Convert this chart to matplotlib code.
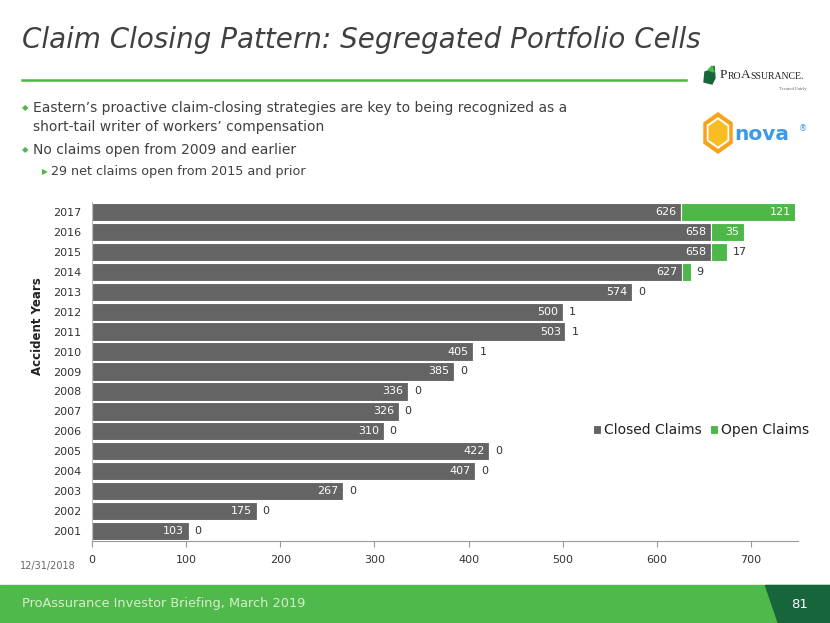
import matplotlib
matplotlib.use('Agg')
import matplotlib.pyplot as plt
from matplotlib.patches import Rectangle, Polygon
from matplotlib.text import Annotation
import numpy as np

# --- DATA ---
YEARS = ['2001', '2002', '2003', '2004', '2005', '2006', '2007', '2008', '2009',
         '2010', '2011', '2012', '2013', '2014', '2015', '2016', '2017']
CLOSED = [103, 175, 267, 407, 422, 310, 326, 336, 385, 405, 503, 500, 574, 627, 658, 658, 626]
OPEN = [0, 0, 0, 0, 0, 0, 0, 0, 0, 1, 1, 1, 0, 9, 17, 35, 121]
X_TICKS = [0, 100, 200, 300, 400, 500, 600, 700]

TITLE = 'Claim Closing Pattern: Segregated Portfolio Cells'
BULLETS = ["Eastern\u2019s proactive claim-closing strategies are key to being recognized as a",
           "short-tail writer of workers\u2019 compensation",
           "No claims open from 2009 and earlier",
           "29 net claims open from 2015 and prior"]
FOOTER = 'ProAssurance Investor Briefing, March 2019'
PAGE = '81'
DATE = '12/31/2018'

# --- STYLE ---
GRAY_BAR = '#646464'
GREEN = '#4db848'
DARK_GREEN = '#17653a'
TEXT = '#404040'

W, H = 830, 623
fig = plt.figure(figsize=(W / 100, H / 100), dpi=100)
fig.patch.set_facecolor('white')


def fx(px):
    return px / W


def fy(py):
    return 1 - py / H


def hexagon(cx, cy, rx, ry, **kw):
    # pointy-top hexagon given in pixel units
    ang = np.deg2rad(90 + 60 * np.arange(6))
    pts = [[fx(cx + rx * np.cos(a)), fy(cy - ry * np.sin(a))] for a in ang]
    return Polygon(pts, closed=True, transform=fig.transFigure, **kw)


# title + rule
fig.text(fx(22), fy(40), TITLE, fontsize=20, style='italic', color=TEXT,
         va='center', ha='left')
fig.add_artist(plt.Line2D([fx(22), fx(686)], [fy(80), fy(80)], color=GREEN, lw=1.8,
                          transform=fig.transFigure))

# bullets
bullet_kw = dict(fontsize=10, color=TEXT, va='center', ha='left')
fig.text(fx(22), fy(108), '\u25c6', fontsize=6, color=GREEN, va='center')
fig.text(fx(33), fy(108), BULLETS[0], **bullet_kw)
fig.text(fx(33), fy(127), BULLETS[1], **bullet_kw)
fig.text(fx(22), fy(150), '\u25c6', fontsize=6, color=GREEN, va='center')
fig.text(fx(33), fy(150), BULLETS[2], **bullet_kw)
fig.text(fx(42), fy(172), '\u25b6', fontsize=5.5, color=GREEN, va='center')
fig.text(fx(51), fy(172), BULLETS[3], fontsize=9.2, color=TEXT, va='center', ha='left')

# ProAssurance logo (approximation)
fig.add_artist(Polygon([[fx(704), fy(82)], [fx(705), fy(72)], [fx(711), fy(70)],
                        [fx(714), fy(66)], [fx(715), fy(78)], [fx(712), fy(84)]],
                       closed=True, color=DARK_GREEN, transform=fig.transFigure))
fig.add_artist(Polygon([[fx(708), fy(70)], [fx(712), fy(66)], [fx(714), fy(72)]],
                       closed=True, color=GREEN, transform=fig.transFigure))
logo_kw = dict(family='Liberation Serif', color='#222222', va='bottom', ha='left')
prev = fig.text(fx(720), fy(81), 'P', fontsize=9.5, **logo_kw)
for part, size in [('RO', 7), ('A', 9.5), ('SSURANCE.', 7)]:
    prev = fig.add_artist(Annotation(part, xy=(1, 0), xycoords=prev, fontsize=size,
                                     **logo_kw))
fig.text(fx(807), fy(89), 'Treated Fairly', fontsize=3.5, family='Liberation Serif',
         color='#666666', va='center', ha='right')

# Inova logo (approximation)
fig.add_artist(hexagon(718, 133, 17, 21, facecolor='#f7a21b', edgecolor='none'))
fig.add_artist(hexagon(718, 133, 13, 16, facecolor='white', edgecolor='none'))
fig.add_artist(hexagon(718, 133, 11, 13.5, facecolor='#f8bd22', edgecolor='none'))
fig.text(fx(734), fy(134), 'nova', fontsize=14.5, color='#3a9ae8', fontweight='bold',
         va='center', ha='left')
fig.text(fx(803), fy(129), '\u00ae', fontsize=6, color='#3a9ae8', va='center',
         ha='center')

# --- CHART ---
ax = fig.add_axes([fx(92), fy(541), fx(798 - 92), (541 - 202) / H])
y = np.arange(len(YEARS))
ax.barh(y, CLOSED, height=0.92, color=GRAY_BAR, edgecolor='white', lw=0.8,
        label='Closed Claims')
ax.barh(y, OPEN, left=CLOSED, height=0.92, color=GREEN, edgecolor='white', lw=0.8,
        label='Open Claims')

for i, (c, o) in enumerate(zip(CLOSED, OPEN)):
    ax.text(c - 5, i, str(c), color='white', fontsize=8, ha='right', va='center')
    if o >= 30:
        ax.text(c + o - 5, i, str(o), color='white', fontsize=8, ha='right', va='center')
    else:
        ax.text(c + o + 6, i, str(o), color='#333333', fontsize=8, ha='left', va='center')

ax.set_xlim(0, 750)
ax.set_ylim(-0.5, len(YEARS) - 0.5)
ax.set_yticks(y)
ax.set_yticklabels(YEARS, fontsize=8, color='#333333')
ax.set_xticks(X_TICKS)
ax.set_xticklabels([str(t) for t in X_TICKS], fontsize=8, color='#333333')
ax.tick_params(axis='y', length=0, pad=8)
ax.tick_params(axis='x', length=4, color='#999999', pad=6)
for s in ['top', 'right']:
    ax.spines[s].set_visible(False)
ax.spines['left'].set_color('#bbbbbb')
ax.spines['bottom'].set_color('#999999')

fig.text(fx(37), fy(326), 'Accident Years', rotation=90, fontsize=8.5, fontweight='bold',
         color='#222222', ha='center', va='center')

leg = ax.legend(loc='center', bbox_to_anchor=(fx(701), fy(430)),
                bbox_transform=fig.transFigure, ncol=2, frameon=False, fontsize=10,
                handlelength=0.6, handleheight=0.6, handletextpad=0.2, columnspacing=0.6)
for t in leg.get_texts():
    t.set_color('#222222')

fig.text(fx(20), fy(566), DATE, fontsize=7, color='#666666', va='center')

# footer
fig.add_artist(Rectangle((0, 0), 1, fy(585), color='#50b94c', transform=fig.transFigure))
fig.add_artist(Polygon([[fx(765), fy(585)], [fx(830), fy(585)], [fx(830), fy(623)],
                        [fx(778), fy(623)]], closed=True, color=DARK_GREEN,
                       transform=fig.transFigure))
fig.text(fx(22), fy(604), FOOTER, fontsize=9.3, color='#d4efc9', va='center')
fig.text(fx(800), fy(604), PAGE, fontsize=9.5, color='white', va='center', ha='center')

fig.savefig('out.png', dpi=100)
